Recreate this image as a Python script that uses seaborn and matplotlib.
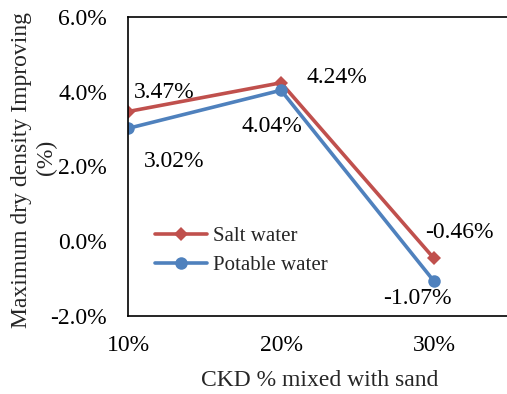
import matplotlib
matplotlib.use("Agg")
import matplotlib.pyplot as plt
import seaborn as sns
import pandas as pd

categories = ["10%", "20%", "30%"]
salt_water = [3.47, 4.24, -0.46]
potable_water = [3.02, 4.04, -1.07]
series_names = ["Salt water", "Potable water"]
y_ticks = [-2.0, 0.0, 2.0, 4.0, 6.0]

rows = []
for name, vals in zip(series_names, [salt_water, potable_water]):
    for i, v in enumerate(vals):
        rows.append({"x": i, "y": v, "series": name})
df = pd.DataFrame(rows)

sns.set_theme(style="white")
plt.rcParams["font.family"] = ["Liberation Serif", "DejaVu Serif"]

FS = 17

fig = plt.figure(figsize=(5.07, 3.94), dpi=100)
ax = fig.add_axes([128/507, 1-316/394, 1-128/507, (316-17)/394])

palette = {"Salt water": "#C0504D", "Potable water": "#4F81BD"}
sns.lineplot(data=df, x="x", y="y", hue="series", style="series",
             markers={"Salt water": "D", "Potable water": "o"}, dashes=False,
             palette=palette, linewidth=2.6, markersize=8, markeredgewidth=0,
             ax=ax, legend=True)
for line in ax.lines:
    if line.get_marker() == "D":
        line.set_markersize(7)
    elif line.get_marker() == "o":
        line.set_markersize(9)

ax.set_xlim(0, 2.477)
ax.set_ylim(-2, 6)
ax.set_xticks(range(len(categories)))
ax.set_xticklabels(categories)
ax.set_yticks(y_ticks)
ax.set_yticklabels([f"{t:.1f}%" for t in y_ticks])
ax.tick_params(axis="both", length=0, labelsize=FS, colors="black")
ax.tick_params(axis="y", pad=15)
ax.tick_params(axis="x", pad=14)
ax.set_xlabel("")
ax.set_ylabel("")

for s in ["left", "bottom", "top"]:
    ax.spines[s].set_visible(True)
    ax.spines[s].set_color("black")
    ax.spines[s].set_linewidth(1.2)
ax.spines["right"].set_visible(False)

# data labels (offsets in points)
salt_offsets = [(26, 13.5), (40, 4), (18, 19)]
pot_offsets = [(33, -24), (-6.5, -26), (-12, -12.5)]
for i, v in enumerate(salt_water):
    ax.annotate(f"{v:.2f}%", (i, v), xytext=salt_offsets[i], textcoords="offset points",
                ha="center", va="center", fontsize=FS, color="black")
for i, v in enumerate(potable_water):
    ax.annotate(f"{v:.2f}%", (i, v), xytext=pot_offsets[i], textcoords="offset points",
                ha="center", va="center", fontsize=FS, color="black")

leg = ax.legend(loc="upper left", bbox_to_anchor=(0.070, 0.30), frameon=False,
                fontsize=15, handlelength=2.5, handletextpad=0.3, labelspacing=0.45,
                borderaxespad=0, borderpad=0)
for h in leg.legend_handles:
    h.set_linewidth(2.6)

fig.text(22/507, 1-170/394, "Maximum dry density Improving", rotation=90,
         ha="center", va="center", fontsize=FS)
fig.text(46/507, 1-157/394, "(%)", rotation=90, ha="center", va="center", fontsize=FS)
fig.text(320/507, 1-380/394, "CKD % mixed with sand", ha="center", va="center", fontsize=FS)

fig.savefig("out.png", dpi=100)
